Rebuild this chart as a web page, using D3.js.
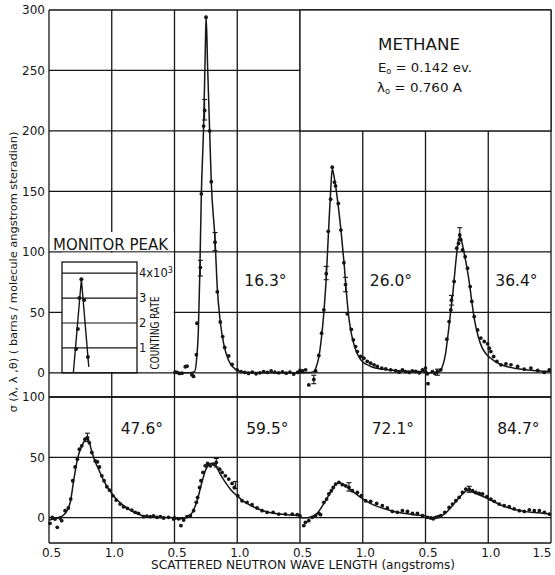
<!DOCTYPE html>
<html><head><meta charset="utf-8">
<script src="https://cdn.jsdelivr.net/npm/d3@7"></script>
<style>
body{margin:0;background:#fff}
svg{display:block}
text{font-family:"DejaVu Sans",sans-serif;fill:#151515}
</style>
</head><body>
<svg id="c" width="555" height="575"></svg>
<script>
// ---------------- DATA ----------------
const topTicks = [0, 50, 100, 150, 200, 250, 300];
const botTicks = [0, 50, 100];
const xTicks = [0.5, 1.0];
const topAngles = ["16.3°", "26.0°", "36.4°"];      // panels 1..3 of top row
const botAngles = ["47.6°", "59.5°", "72.1°", "84.7°"];
const rateTicks = [1, 2, 3];

// monitor peak (wavelength, counting rate x10^3)
const monitorDots = [[0.716,0.96],[0.730,1.76],[0.742,3.0],[0.758,3.76],[0.780,2.92],[0.810,0.64]];
const monitorLine = [[0.694,0],[0.758,3.76],[0.817,0.24]];

// 16.3 deg
const dots163 = [[0.505,0.5],[0.52,0.3],[0.54,-0.5],[0.56,-0.3],[0.586,5],[0.60,5.5],[0.639,-1.6],[0.652,-3],
 [0.674,15],[0.679,41],[0.706,87],[0.714,148],[0.732,204],[0.740,217],[0.751,294],[0.780,200],[0.793,158],
 [0.823,108],[0.841,67],[0.865,42],[0.884,30],[0.900,21],[0.932,14],[0.959,7],[0.999,2.5],[1.03,1],[1.06,0.3],
 [1.09,-0.5],[1.12,0.5],[1.15,-0.8],[1.18,0],[1.21,1],[1.24,0.3],[1.27,1.5],[1.30,0.5],[1.33,0],[1.36,0.8],
 [1.39,-0.3],[1.42,0.5],[1.45,-1],[1.48,0.3]];
const fit163 = [[0.5,0],[0.62,0],[0.66,1],[0.675,10],[0.69,35],[0.70,75],[0.714,148],[0.732,204],[0.745,265],
 [0.752,295],[0.764,253],[0.78,200],[0.793,158],[0.823,110],[0.841,70],[0.865,42],[0.892,24],[0.932,10],
 [0.985,3],[1.05,0.5],[1.5,0]];

// 26.0 deg
const dots260 = [[0.50,2],[0.52,1.5],[0.545,2.5],[0.57,-10],[0.61,-5.5],[0.625,1.5],[0.650,14.3],[0.672,32.8],
 [0.690,52],[0.709,82],[0.725,117],[0.744,143.5],[0.757,170],[0.775,157.6],[0.783,154.5],[0.805,140],[0.826,118],
 [0.850,91],[0.863,73],[0.877,48.8],[0.909,36],[0.925,27.3],[0.943,21.7],[0.957,17.6],[0.983,13.5],[1.009,12.1],
 [1.036,9.4],[1.063,8],[1.090,6.6],[1.116,5.2],[1.151,3.9],[1.183,3.3],[1.223,2.5],[1.262,1.7],[1.29,0.5],
 [1.316,2.5],[1.34,1],[1.369,0.3],[1.395,1.5],[1.422,1.1],[1.45,0],[1.476,2.5],[1.50,3.9]];
const fit260 = [[0.5,0],[0.6,0.5],[0.63,5],[0.65,13],[0.67,28],[0.69,50],[0.71,80],[0.725,112],[0.745,152],
 [0.757,169],[0.768,164],[0.78,157],[0.80,142],[0.83,114],[0.85,92],[0.87,66],[0.89,45],[0.91,32],[0.94,20],
 [0.97,13],[1.0,9],[1.05,6],[1.1,4],[1.2,2.5],[1.3,1.5],[1.5,1]];

// 36.4 deg
const dots364 = [[0.50,1],[0.515,-0.8],[0.52,-9],[0.555,1],[0.575,-0.5],[0.595,1],[0.622,2.5],[0.670,27.8],
 [0.688,42.4],[0.702,52],[0.707,60],[0.728,75.5],[0.749,103],[0.763,107],[0.773,114],[0.781,110],[0.795,101.6],
 [0.816,96],[0.835,86.5],[0.856,71.3],[0.869,59],[0.888,46.5],[0.915,35.5],[0.941,28.7],[0.968,25.9],[0.995,24],
 [1.008,20.4],[1.021,17.6],[1.043,13.5],[1.069,9.4],[1.101,6.6],[1.141,7.4],[1.181,6.6],[1.234,5.2],[1.287,3],
 [1.340,3.9],[1.394,1.9],[1.446,0.3],[1.486,2.5]];
const fit364 = [[0.5,0],[0.6,0.5],[0.63,4],[0.66,16],[0.68,32],[0.70,50],[0.72,68],[0.74,90],[0.76,108],
 [0.775,113],[0.79,108],[0.81,98],[0.83,87],[0.85,74],[0.87,58],[0.89,44],[0.92,30],[0.95,21],[0.98,16],
 [1.02,12],[1.06,9],[1.12,6],[1.2,4],[1.3,2.5],[1.5,1]];

// 47.6 deg
const dots476 = [[0.508,-4.7],[0.526,0.3],[0.548,-1.1],[0.566,-8],[0.588,-0.3],[0.601,-2.5],[0.628,5.8],[0.654,8],
 [0.673,15.4],[0.689,30.6],[0.708,42],[0.726,48.5],[0.742,56.7],[0.761,59.5],[0.787,65],[0.806,66.4],[0.822,62],
 [0.841,54],[0.868,47],[0.886,46.3],[0.902,42],[0.921,34.7],[0.939,30.6],[0.961,25.6],[0.982,22.9],[1.008,18.2],
 [1.035,14.6],[1.067,11.3],[1.093,9],[1.125,7.7],[1.160,6.3],[1.187,4.4],[1.213,3.6],[1.253,0.8],[1.28,1.2],
 [1.307,0.8],[1.333,1.5],[1.360,0.3],[1.387,0.8],[1.413,-0.3],[1.453,0.3],[1.493,-1.1]];
const fit476 = [[0.5,-2],[0.55,-1],[0.6,1],[0.64,5],[0.67,13],[0.70,33],[0.73,50],[0.76,59],[0.79,65],
 [0.805,67],[0.82,63],[0.84,55],[0.87,46],[0.9,39],[0.95,28],[1.0,20],[1.05,14],[1.1,9.5],[1.15,6],[1.2,3.5],
 [1.25,1.5],[1.3,0.5],[1.5,0]];

// 59.5 deg
const dots595 = [[0.50,-0.3],[0.532,-1],[0.551,-6.6],[0.573,-2],[0.599,0.8],[0.626,1.7],[0.652,5.8],[0.674,12.7],
 [0.684,16.8],[0.700,25],[0.711,30.6],[0.727,37.5],[0.745,43],[0.764,44.9],[0.785,43],[0.812,44.3],[0.833,45.7],
 [0.860,40.2],[0.879,37.5],[0.905,34.7],[0.932,32],[0.959,28.4],[0.977,25],[1.004,18.2],[1.038,14],[1.078,12.7],
 [1.118,10.7],[1.158,8],[1.198,5.8],[1.238,4.4],[1.286,4.4],[1.331,3],[1.384,3],[1.438,3],[1.478,2.5]];
const fit595 = [[0.5,-1],[0.55,-1],[0.6,0.5],[0.64,4],[0.68,14],[0.72,30],[0.75,40],[0.78,44.5],[0.80,45],
 [0.83,42.5],[0.86,37],[0.9,30],[0.95,23],[1.0,18],[1.05,13.5],[1.1,10.5],[1.2,6],[1.3,3.5],[1.4,2.5],[1.5,2]];

// 72.1 deg
const dots721 = [[0.50,1.5],[0.53,-6.6],[0.544,-3.9],[0.570,-2.5],[0.597,0.3],[0.624,1.7],[0.650,3.6],[0.664,2.5],
 [0.690,12.7],[0.712,15.4],[0.730,19.6],[0.750,22.3],[0.765,25],[0.784,27.8],[0.810,29.2],[0.837,27.3],[0.864,26.4],
 [0.890,25],[0.917,22.3],[0.957,20.9],[0.989,18.2],[1.023,14],[1.063,13.5],[1.111,11.8],[1.156,9.9],[1.196,8],
 [1.236,5.2],[1.276,4.4],[1.316,5.8],[1.356,5.2],[1.396,3.6],[1.436,3.6],[1.476,1.7]];
const fit721 = [[0.5,0],[0.56,0],[0.6,1],[0.64,4],[0.68,10],[0.72,17],[0.76,24],[0.79,28],[0.81,29],[0.84,28],
 [0.88,25],[0.93,21],[0.98,17],[1.03,13.5],[1.1,10],[1.2,6.5],[1.3,4],[1.4,2.5],[1.5,1.5]];

// 84.7 deg
const dots847 = [[0.515,0.3],[0.542,-0.3],[0.562,-1],[0.582,0.3],[0.602,0.8],[0.622,1.7],[0.654,4.4],[0.688,8.5],
 [0.715,11.3],[0.742,14],[0.768,16.8],[0.795,20.9],[0.821,23.7],[0.848,23.7],[0.875,22.3],[0.901,20.9],[0.928,20.1],
 [0.955,19.6],[0.989,17.4],[1.021,15.4],[1.048,13.5],[1.087,11.3],[1.127,9.9],[1.167,9.1],[1.207,7.2],[1.247,5.8],
 [1.287,5.2],[1.327,6.4],[1.367,5.8],[1.407,5.8],[1.447,4.4],[1.487,3]];
const fit847 = [[0.5,0],[0.6,0.5],[0.65,3],[0.7,8],[0.75,14.5],[0.8,20],[0.83,22.5],[0.86,22],[0.9,20],[0.95,18],
 [1.0,15.5],[1.05,13],[1.1,10.5],[1.2,7],[1.3,5],[1.4,4],[1.5,3]];

// error bars: [panel, wavelength, low, high]
const errTop = [[1,0.706,80,93],[1,0.740,209,226],[1,0.823,101,116],[2,0.709,77,88],[2,0.863,67,79],
 [2,0.61,-9,-2],[3,0.707,56,64],[3,0.773,110,120],[3,0.595,-2,3]];
const errBot = [[0,0.806,63,70],[1,0.833,42,49],[1,0.985,24,30],[2,0.89,22,29],[3,0.848,21,26]];

// ---------------- CHART ----------------
const svg = d3.select("#c");
const ink = "#151515";
const X0 = 49, X1 = 551, PW = (X1 - X0) / 4;
const xs = d3.range(4).map(p => d3.scaleLinear().domain([0.5, 1.5]).range([X0 + p * PW, X0 + (p + 1) * PW]));
const yT = d3.scaleLinear().domain([-20, 300]).range([397, 10]);
const yB = d3.scaleLinear().domain([-21, 100]).range([543, 397]);

const grid = svg.append("g").attr("stroke", ink).attr("stroke-width", 1.3).attr("fill", "none");
const boxL = xs[2](0.5);
function hline(y, xa, xb) { grid.append("line").attr("x1", xa).attr("x2", xb).attr("y1", y).attr("y2", y); }
function vline(x, ya, yb) { grid.append("line").attr("x1", x).attr("x2", x).attr("y1", ya).attr("y2", yb); }

topTicks.forEach(v => hline(yT(v), X0, v === 250 ? boxL : X1));
hline(yT(-20), X0, X1);
botTicks.forEach(v => hline(yB(v), X0, X1));
hline(yB(-21), X0, X1);
const vx = [];
xs.forEach((s, p) => xTicks.forEach(t => vx.push(s(t))));
vx.push(xs[3](1.5));
vx.forEach(x => {
  const inBox = x > boxL + 1 && x < X1 - 1;
  vline(x, inBox ? yT(200) : yT(300), yB(-21));
});

// white-outs for monitor inset area
const wh = svg.append("g").attr("fill", "#fff");
wh.append("rect").attr("x", X0 + 0.8).attr("y", 232).attr("width", xs[1](0.5) - X0 - 1.6).attr("height", yT(100) - 232 - 0.8);
wh.append("rect").attr("x", 62).attr("y", yT(100) + 0.8).attr("width", xs[1](0.5) - 62 - 0.8).attr("height", yT(0) - yT(100) - 1.6);
vline(xs[0](1.0), yT(100), yT(0));

// monitor inset
const rateY = d3.scaleLinear().domain([0, 4]).range([yT(0), yT(0) - 99.6]);
const inset = svg.append("g");
inset.append("rect").attr("x", 62).attr("y", rateY(4.45)).attr("width", 75).attr("height", rateY(0) - rateY(4.45))
  .attr("fill", "none").attr("stroke", ink).attr("stroke-width", 1.3);
[1, 2, 3, 4].forEach(r => inset.append("line").attr("x1", 62).attr("x2", 137).attr("y1", rateY(r)).attr("y2", rateY(r))
  .attr("stroke", ink).attr("stroke-width", 1.2));
inset.append("path").datum(monitorLine).attr("fill", "none").attr("stroke", ink).attr("stroke-width", 1.4)
  .attr("d", d3.line().x(d => xs[0](d[0])).y(d => rateY(d[1])));
inset.selectAll("circle").data(monitorDots).join("circle").attr("cx", d => xs[0](d[0])).attr("cy", d => rateY(d[1])).attr("r", 2).attr("fill", ink);
rateTicks.forEach(r => inset.append("text").attr("x", 139).attr("y", rateY(r) + 4).attr("font-size", 11.5).text(r));
const t4 = inset.append("text").attr("x", 139).attr("y", rateY(4) + 4).attr("font-size", 11.5);
t4.append("tspan").text("4x10");
t4.append("tspan").attr("dy", -4).attr("font-size", 8).text("3");
inset.append("text").attr("transform", `translate(159,${rateY(1.6)}) rotate(-90)`).attr("text-anchor", "middle")
  .attr("font-size", 11.5).attr("textLength", 73).attr("lengthAdjust", "spacingAndGlyphs").text("COUNTING RATE");
svg.append("text").attr("x", 53).attr("y", 250).attr("font-size", 16).attr("textLength", 115)
  .attr("lengthAdjust", "spacingAndGlyphs").text("MONITOR PEAK");

// methane box
svg.append("rect").attr("x", boxL).attr("y", yT(300)).attr("width", X1 - boxL).attr("height", yT(200) - yT(300))
  .attr("fill", "#fff").attr("stroke", ink).attr("stroke-width", 1.3);
svg.append("text").attr("x", 378).attr("y", 50).attr("font-size", 16.5).attr("textLength", 82).attr("lengthAdjust", "spacingAndGlyphs").text("METHANE");
const e0 = svg.append("text").attr("x", 378).attr("y", 72).attr("font-size", 13).attr("textLength", 94).attr("lengthAdjust", "spacingAndGlyphs");
e0.append("tspan").text("E");
e0.append("tspan").attr("font-size", 8).attr("dy", 2).text("o");
e0.append("tspan").attr("dy", -2).text(" = 0.142 ev.");
const l0 = svg.append("text").attr("x", 377).attr("y", 92).attr("font-size", 13).attr("textLength", 85).attr("lengthAdjust", "spacingAndGlyphs");
l0.append("tspan").text("λ");
l0.append("tspan").attr("font-size", 8).attr("dy", 2).text("o");
l0.append("tspan").attr("dy", -2).text(" = 0.760 A");

// series
const topSeries = [[1, dots163, fit163], [2, dots260, fit260], [3, dots364, fit364]];
const botSeries = [[0, dots476, fit476], [1, dots595, fit595], [2, dots721, fit721], [3, dots847, fit847]];
const plot = svg.append("g");
function drawSeries(list, y) {
  list.forEach(([p, dots, fit]) => {
    const x = xs[p];
    plot.append("path").datum(fit).attr("fill", "none").attr("stroke", ink).attr("stroke-width", 1.5)
      .attr("d", d3.line().curve(d3.curveMonotoneX).x(d => x(d[0])).y(d => y(d[1])));
    plot.append("g").selectAll("circle").data(dots).join("circle")
      .attr("cx", d => x(d[0])).attr("cy", d => y(d[1])).attr("r", 1.9).attr("fill", ink);
  });
}
drawSeries(topSeries, yT);
drawSeries(botSeries, yB);

function drawErr(list, y) {
  list.forEach(([p, l, lo, hi]) => {
    const x = xs[p](l);
    const g = plot.append("g").attr("stroke", ink).attr("stroke-width", 1.1);
    g.append("line").attr("x1", x).attr("x2", x).attr("y1", y(lo)).attr("y2", y(hi));
    g.append("line").attr("x1", x - 2.5).attr("x2", x + 2.5).attr("y1", y(lo)).attr("y2", y(lo));
    g.append("line").attr("x1", x - 2.5).attr("x2", x + 2.5).attr("y1", y(hi)).attr("y2", y(hi));
  });
}
drawErr(errTop, yT);
drawErr(errBot, yB);

// angle labels
topAngles.forEach((t, i) => svg.append("text").attr("x", xs[i + 1](1.225)).attr("y", yT(72)).attr("text-anchor", "middle")
  .attr("font-size", 15.5).text(t));
botAngles.forEach((t, i) => svg.append("text").attr("x", xs[i](1.24)).attr("y", yB(69)).attr("text-anchor", "middle")
  .attr("font-size", 15.5).text(t));

// axes
svg.append("g").attr("transform", `translate(${X0 - 1},0)`).call(d3.axisLeft(yT).tickValues(topTicks).tickSize(0).tickPadding(3));
svg.append("g").attr("transform", `translate(${X0 - 1},0)`).call(d3.axisLeft(yB).tickValues(botTicks).tickSize(0).tickPadding(3));
xs.forEach((s, p) => {
  const tv = p === 3 ? [0.5, 1.0, 1.5] : xTicks;
  svg.append("g").attr("class", "xax").attr("transform", `translate(2,${yB(-21)})`)
    .call(d3.axisBottom(s).tickValues(tv).tickSize(0).tickPadding(5).tickFormat(d3.format(".1f")));
});
svg.selectAll(".domain").remove();
svg.selectAll(".tick text").attr("font-size", 12).attr("font-family", "DejaVu Sans").attr("fill", ink);
// keep the last "1.5" label inside the picture edge
svg.selectAll(".xax .tick text").filter(d => d === 1.5).attr("text-anchor", "end").attr("dx", -2);

// axis titles
svg.append("text").attr("x", 303).attr("y", 569).attr("text-anchor", "middle").attr("font-size", 11.5)
  .attr("textLength", 304).attr("lengthAdjust", "spacingAndGlyphs").text("SCATTERED NEUTRON WAVE LENGTH (angstroms)");
svg.append("text").attr("transform", "translate(17,272) rotate(-90)").attr("text-anchor", "middle").attr("font-size", 11)
  .attr("textLength", 281).attr("lengthAdjust", "spacingAndGlyphs").text("σ (λ, λ ,θ) ( barns / molecule angstrom steradian)");
</script>
</body></html>
